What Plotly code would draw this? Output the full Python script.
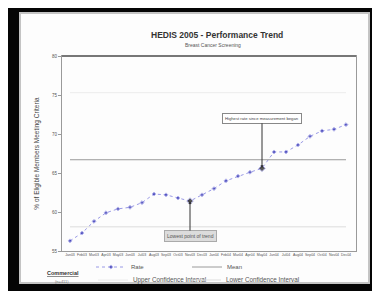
import plotly.graph_objects as go

# ---- data ----
periods = ["Jan03", "Feb03", "Mar03", "Apr03", "May03", "Jun03", "Jul03", "Aug03",
           "Sep03", "Oct03", "Nov03", "Dec03", "Jan04", "Feb04", "Mar04", "Apr04",
           "May04", "Jun04", "Jul04", "Aug04", "Sep04", "Oct04", "Nov04", "Dec04"]
rate = [56.3, 57.3, 58.8, 59.9, 60.4, 60.6, 61.2, 62.3, 62.2, 61.8, 61.4, 62.2,
        63.0, 64.0, 64.6, 65.1, 65.6, 67.7, 67.7, 68.6, 69.7, 70.4, 70.6, 71.2]
mean_rate = 66.7
upper_ci = 75.3
lower_ci = 58.1
y_ticks = [55, 60, 65, 70, 75, 80]
low_idx = 10
high_idx = 16

# the page body has an 8px margin: figure pixel = screen pixel - 8
OFF = 8
W, H = 372, 283
L, R, T, B = 54, 24, 48, 40
pw, ph = W - L - R, H - T - B


def px(sx):
    return (sx - OFF - L) / pw


def py(sy):
    return (H - B - (sy - OFF)) / ph


fig = go.Figure()

mcol = ["#2b2bb0"] * len(rate)
msz = [3] * len(rate)
for i in (low_idx, high_idx):
    mcol[i] = "#111111"
    msz[i] = 5

fig.add_trace(go.Scatter(
    x=periods, y=rate, mode="lines+markers", name="Rate",
    line=dict(color="#9a9ae6", width=1, dash="dot"),
    marker=dict(color=mcol, size=msz, symbol="diamond"),
    legend="legend", showlegend=True))
fig.add_trace(go.Scatter(
    x=periods, y=[mean_rate] * len(periods), mode="lines", name="Mean",
    line=dict(color="#9a9a9a", width=1), legend="legend2", showlegend=True))
fig.add_trace(go.Scatter(
    x=periods, y=[upper_ci] * len(periods), mode="lines", name="Upper Confidence Interval",
    line=dict(color="#ececec", width=1), legend="legend3", showlegend=True))
fig.add_trace(go.Scatter(
    x=periods, y=[lower_ci] * len(periods), mode="lines", name="Lower Confidence Interval",
    line=dict(color="#dddddd", width=1), legend="legend4", showlegend=True))

shapes = [
    # white chart panel inside the black frame
    dict(type="rect", xref="paper", yref="paper", layer="below",
         x0=px(20), x1=px(369), y0=py(283), y1=py(13),
         fillcolor="#fdfdfd", line=dict(color="#c4c4c4", width=2)),
]

annotations = [
    dict(text="chart  of  performance  trend  for  hedis  measures  over  time  2005",
         xref="paper", yref="paper", x=px(52), y=py(9), xanchor="left", yanchor="bottom",
         showarrow=False, font=dict(size=13, color="#5bb0de", family="DejaVu Sans")),
    dict(text="<b>HEDIS 2005 - Performance Trend</b>", xref="paper", yref="paper",
         x=px(217), y=py(35), xanchor="center", yanchor="middle", showarrow=False,
         font=dict(size=8.5, color="#333", family="Liberation Sans")),
    dict(text="Breast Cancer Screening", xref="paper", yref="paper",
         x=px(213), y=py(45), xanchor="center", yanchor="middle", showarrow=False,
         font=dict(size=5, color="#555", family="Liberation Sans")),
    dict(text="<b><u>Commercial</u></b>", xref="paper", yref="paper",
         x=px(45), y=py(273), xanchor="left", yanchor="middle", showarrow=False,
         font=dict(size=5.5, color="#333", family="Liberation Sans")),
    dict(text="(n=411)", xref="paper", yref="paper",
         x=px(53), y=py(281), xanchor="left", yanchor="middle", showarrow=False,
         font=dict(size=4, color="#777", family="Liberation Sans")),
    dict(text="Highest rate since measurement began", x=periods[high_idx], y=rate[high_idx],
         ax=0, ay=-50, showarrow=True, arrowhead=2, arrowsize=0.6, arrowwidth=1,
         arrowcolor="#333", bordercolor="#888", borderwidth=1, borderpad=2,
         bgcolor="#ffffff", font=dict(size=4.2, color="#444", family="Liberation Sans")),
    dict(text="Lowest point of trend", x=periods[low_idx], y=rate[low_idx],
         ax=0, ay=35, showarrow=True, arrowhead=2, arrowsize=0.6, arrowwidth=1,
         arrowcolor="#333", bordercolor="#aaa", borderwidth=1, borderpad=2,
         bgcolor="#dcdcdc", font=dict(size=5, color="#555", family="Liberation Sans")),
]


def leg(sx, sy, size):
    return dict(orientation="h", x=px(sx), y=py(sy), xanchor="left", yanchor="middle",
                itemwidth=30, font=dict(size=size, color="#555", family="Liberation Sans"),
                bgcolor="rgba(0,0,0,0)", borderwidth=0)


fig.update_layout(
    width=W, height=H, showlegend=True,
    margin=dict(l=L, r=R, t=T, b=B, autoexpand=False),
    paper_bgcolor="#050505", plot_bgcolor="#ffffff",
    shapes=shapes, annotations=annotations,
    font=dict(family="Liberation Sans", size=5, color="#444"),
    legend=leg(91, 267, 6),
    legend2=leg(187, 267, 6),
    legend3=leg(93, 280, 6.3),
    legend4=leg(186, 280, 6.3),
    xaxis=dict(type="category", range=[-0.667, 23.833], showgrid=False,
               showline=True, linecolor="#9a9a9a", linewidth=1, mirror=True,
               tickfont=dict(size=3.5, color="#555"), tickangle=0, ticks="",
               zeroline=False),
    yaxis=dict(range=[55, 80], tickvals=y_ticks, ticksuffix="%", showgrid=False,
               showline=True, linecolor="#9a9a9a", linewidth=1, mirror=True,
               ticks="outside", ticklen=3, tickcolor="#999",
               tickfont=dict(size=4.5, color="#555"), zeroline=False,
               title=dict(text="% of Eligible Members Meeting Criteria",
                          font=dict(size=6.5, color="#444"), standoff=11)),
)
# darker top border of the plot box
fig.add_shape(type="line", xref="paper", yref="paper", x0=0, x1=1, y0=1, y1=1,
              line=dict(color="#777", width=2))

fig.write_html("out.html")
